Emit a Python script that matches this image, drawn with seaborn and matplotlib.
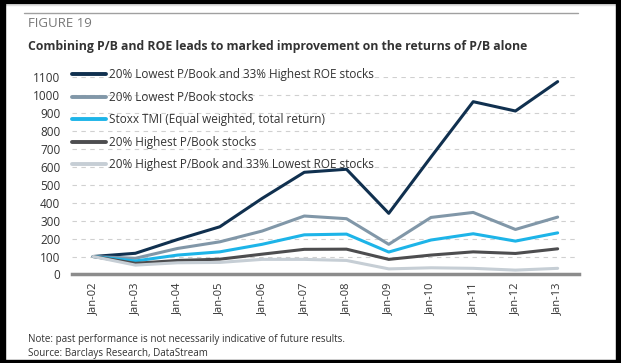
import matplotlib
matplotlib.use("Agg")
import matplotlib.pyplot as plt
import matplotlib.patches as mpatches
import seaborn as sns
import pandas as pd

# data
years = ["Jan-02", "Jan-03", "Jan-04", "Jan-05", "Jan-06", "Jan-07",
         "Jan-08", "Jan-09", "Jan-10", "Jan-11", "Jan-12", "Jan-13"]
low_pb_high_roe = [100, 118, 195, 266, 424, 570, 587, 341, 655, 964, 912, 1076]
low_pb = [100, 90, 145, 182, 242, 326, 311, 168, 318, 346, 251, 320]
stoxx_tmi = [100, 75, 108, 126, 168, 221, 225, 125, 192, 227, 186, 232]
high_pb = [100, 62, 78, 85, 113, 140, 141, 84, 108, 126, 117, 143]
high_pb_low_roe = [100, 52, 65, 67, 84, 84, 78, 31, 37, 34, 24, 34]

series_names = [
    "20% Lowest P/Book and 33% Highest ROE stocks",
    "20% Lowest P/Book stocks",
    "Stoxx TMI (Equal weighted, total return)",
    "20% Highest P/Book stocks",
    "20% Highest P/Book and 33% Lowest ROE stocks",
]
colors = ["#10304f", "#8197a8", "#1db4e8", "#4d4d4f", "#c6ced5"]

values = [low_pb_high_roe, low_pb, stoxx_tmi, high_pb, high_pb_low_roe]
rows = []
for name, vals in zip(series_names, values):
    for i, v in enumerate(vals):
        rows.append({"pos": i, "value": v, "series": name})
df = pd.DataFrame(rows)

sns.set_style("white")
plt.rcParams["font.family"] = ["Open Sans", "DejaVu Sans"]

fig = plt.figure(figsize=(6.21, 3.63), dpi=100)
ax = fig.add_axes([0.116, 0.244, 0.816, 0.543])

sns.lineplot(data=df, x="pos", y="value", hue="series", hue_order=series_names,
             palette=colors, linewidth=2.2, ax=ax, legend=False)

ax.set_xlim(-0.5, 11.5)
ax.set_ylim(0, 1100)
ax.set_yticks(range(0, 1101, 100))
ax.set_xticks(range(len(years)))
ax.set_xticklabels(years, rotation=90, fontsize=8, color="#333333")
ax.tick_params(axis="y", labelsize=8.5, colors="#333333", length=0, pad=8.5)
ax.tick_params(axis="x", length=0, pad=6)
ax.set_xlabel("")
ax.set_ylabel("")

ax.yaxis.grid(True, linestyle=(0, (4, 4)), color="#d0d0d0", linewidth=0.8)
ax.set_axisbelow(True)
for side in ["top", "right", "left"]:
    ax.spines[side].set_visible(False)
ax.spines["bottom"].set_color("#8c8c8c")
ax.spines["bottom"].set_linewidth(2.5)

handles = [plt.Line2D([], [], color=c, linewidth=2.8) for c in colors]
leg = ax.legend(handles, series_names, loc="upper left", bbox_to_anchor=(0.0, 1.045),
                frameon=False, fontsize=8.5, handlelength=2.9, handletextpad=0.2,
                labelspacing=0.8, borderaxespad=0, borderpad=0)
for t in leg.get_texts():
    t.set_color("#333333")

fig.text(0.045, 0.935, "FIGURE 19", fontsize=9.5, color="#777777", va="center")
fig.text(0.045, 0.873, "Combining P/B and ROE leads to marked improvement on the returns of P/B alone",
         fontsize=8.85, fontweight="bold", color="#333333", va="center")
fig.text(0.045, 0.066, "Note: past performance is not necessarily indicative of future results.",
         fontsize=7.1, color="#333333", va="center")
fig.text(0.045, 0.027, "Source: Barclays Research, DataStream",
         fontsize=7.1, color="#333333", va="center")

# header rule and black frame around the picture
fig.add_artist(plt.Line2D([24 / 621, 578 / 621], [1 - 13 / 363, 1 - 13 / 363],
                          color="#a0a0a0", linewidth=1, transform=fig.transFigure))
fig.add_artist(plt.Line2D([5 / 621, 616 / 621], [1 - 5 / 363, 1 - 5 / 363],
                          color="#e0e0e0", linewidth=1, transform=fig.transFigure))
for x0, y0, w, h in [(0, 0, 5, 363), (616, 0, 5, 363), (0, 0, 621, 3), (0, 360, 621, 3)]:
    fig.add_artist(mpatches.Rectangle((x0 / 621, 1 - (y0 + h) / 363), w / 621, h / 363,
                                      transform=fig.transFigure, color="black", zorder=10))

plt.savefig("out.png", dpi=100)
plt.close()
